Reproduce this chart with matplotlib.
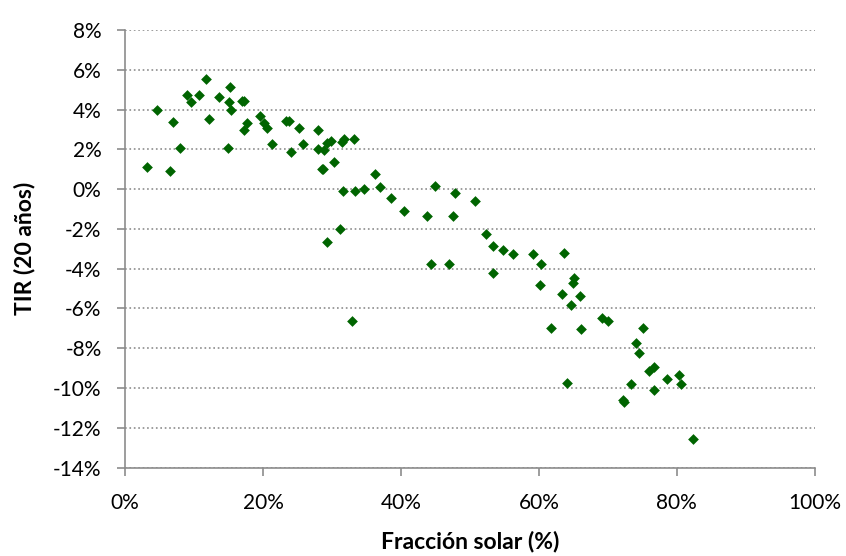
import matplotlib
matplotlib.use("Agg")
from matplotlib import pyplot as plt
from matplotlib.ticker import FuncFormatter, MultipleLocator

# Fracción solar (%) y TIR a 20 años (%)
fraccion_solar = [3.2, 4.6, 6.5, 6.9, 8.0, 9.0, 9.5, 10.7, 11.7, 12.1, 13.6, 15.2, 15.0, 15.4,
                  14.9, 17.0, 17.2, 17.6, 17.2, 19.5, 20.1, 20.5, 21.3, 23.3, 23.7, 24.0, 25.2,
                  25.8, 28.0, 28.0, 28.8, 28.5, 28.7, 29.3, 29.9, 30.3, 31.4, 31.8, 33.2, 31.6,
                  33.4, 34.7, 36.2, 37.0, 38.5, 40.4, 43.8, 44.9, 47.9, 47.5, 50.8, 52.3, 53.4,
                  54.8, 56.2, 53.3, 44.4, 46.9, 31.1, 29.3, 32.9, 59.1, 60.3, 63.7, 60.1, 65.1,
                  64.9, 63.4, 65.9, 64.6, 61.8, 66.1, 64.1, 69.2, 70.0, 75.1, 74.1, 74.5, 75.9,
                  76.7, 73.4, 72.2, 72.3, 76.7, 78.6, 80.3, 80.6, 82.4]
tir = [1.09, 3.99, 0.90, 3.37, 2.05, 4.74, 4.37, 4.72, 5.53, 3.55, 4.61, 5.14, 4.36, 4.00,
       2.06, 4.44, 4.44, 3.35, 2.96, 3.68, 3.35, 3.08, 2.26, 3.44, 3.43, 1.88, 3.08,
       2.26, 2.96, 2.01, 1.96, 0.99, 1.03, 2.33, 2.40, 1.37, 2.36, 2.51, 2.51, -0.10,
       -0.10, 0.00, 0.74, 0.09, -0.44, -1.11, -1.37, 0.14, -0.18, -1.34, -0.60, -2.28, -2.88,
       -3.07, -3.27, -4.20, -3.74, -3.74, -1.98, -2.66, -6.62, -3.28, -3.77, -3.23, -4.84, -4.46,
       -4.71, -5.28, -5.36, -5.83, -7.00, -7.04, -9.75, -6.47, -6.62, -7.00, -7.72, -8.26, -9.16,
       -8.93, -9.78, -10.60, -10.72, -10.10, -9.56, -9.35, -9.82, -12.58]

plt.rcParams['font.family'] = ['Lato', 'DejaVu Sans']

fig = plt.figure(figsize=(8.46, 5.56), dpi=100)
ax = fig.add_axes([0.148, 0.159, 0.815, 0.787])

ax.scatter(fraccion_solar, tir, marker='D', s=30, color='#006400', linewidths=0, zorder=3)

ax.set_xlim(0, 100)
ax.set_ylim(-14, 8)
ax.xaxis.set_major_locator(MultipleLocator(20))
ax.yaxis.set_major_locator(MultipleLocator(2))
ax.xaxis.set_major_formatter(FuncFormatter(lambda v, p: f"{v:.0f}%"))
ax.yaxis.set_major_formatter(FuncFormatter(lambda v, p: f"{v:.0f}%"))

ax.grid(axis='y', linestyle=':', color='#8c8c8c', linewidth=1.2)
for s in ['top', 'right']:
    ax.spines[s].set_visible(False)
for s in ['left', 'bottom']:
    ax.spines[s].set_color('#8c8c8c')
    ax.spines[s].set_linewidth(1.2)
ax.tick_params(colors='#8c8c8c', labelcolor='black', labelsize=15, length=6, width=1.2)
ax.tick_params(axis='y', pad=11)
ax.tick_params(axis='x', pad=12)

ax.set_xlabel('Fracción solar (%)', fontsize=16.5, fontweight='bold', va='center')
ax.set_ylabel('TIR (20 años)', fontsize=16.5, fontweight='bold', va='center')
ax.xaxis.set_label_coords(0.5, -0.170)
ax.yaxis.set_label_coords(-0.1456, 0.5)

fig.savefig('out.png', dpi=100)
